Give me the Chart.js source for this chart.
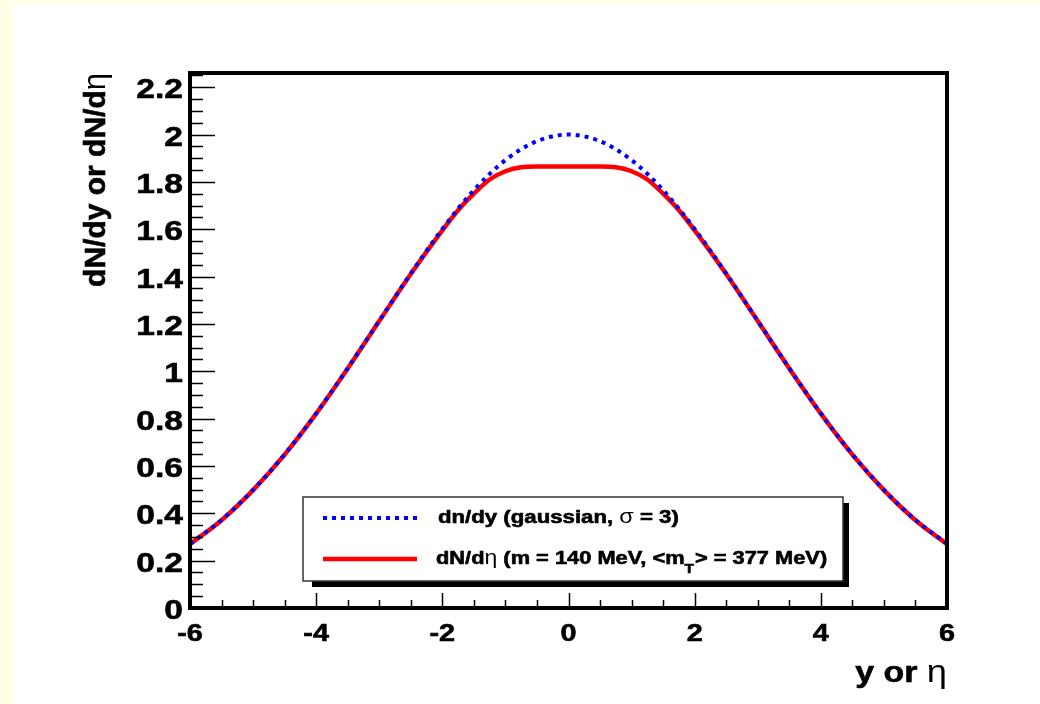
<!DOCTYPE html>
<html>
<head>
<meta charset="utf-8">
<title>dN/dy or dN/deta</title>
<script src="https://cdn.jsdelivr.net/npm/chart.js@4.4.1/dist/chart.umd.min.js"></script>
<style>
  html, body { margin: 0; padding: 0; background: #fffee6; }
  #wrap { width: 1040px; height: 704px; position: relative; }
</style>
</head>
<body>
<div id="wrap"><canvas id="chart"></canvas></div>
<script>
// values
const gaussX = [-6, -5.5, -5, -4.5, -4, -3.5, -3, -2.5, -2, -1.5, -1, -0.5, 0, 0.5, 1, 1.5, 2, 2.5, 3, 3.5, 4, 4.5, 5, 5.5, 6];
const gaussY = [0.271, 0.372, 0.499, 0.649, 0.822, 1.013, 1.213, 1.413, 1.601, 1.765, 1.892, 1.972, 2.0,
                1.972, 1.892, 1.765, 1.601, 1.413, 1.213, 1.013, 0.822, 0.649, 0.499, 0.372, 0.271];

const etaX = [-6, -5.5, -5, -4.5, -4, -3.5, -3, -2.5, -2, -1.75, -1.5, -1.25, -1, -0.75, -0.5, 0,
              0.5, 0.75, 1, 1.25, 1.5, 1.75, 2, 2.5, 3, 3.5, 4, 4.5, 5, 5.5, 6];
const etaY = [0.27, 0.371, 0.498, 0.648, 0.821, 1.012, 1.212, 1.411, 1.595, 1.68, 1.75, 1.81, 1.845, 1.862, 1.865, 1.865,
              1.865, 1.862, 1.845, 1.81, 1.75, 1.68, 1.595, 1.411, 1.212, 1.012, 0.821, 0.648, 0.498, 0.371, 0.27];

const xMajorTicks = [-6, -4, -2, 0, 2, 4, 6];
const xTickLabels = ['-6', '-4', '-2', '0', '2', '4', '6'];
const yMajorTicks = [0, 0.2, 0.4, 0.6, 0.8, 1, 1.2, 1.4, 1.6, 1.8, 2, 2.2];
const yTickLabels = ['0', '0.2', '0.4', '0.6', '0.8', '1', '1.2', '1.4', '1.6', '1.8', '2', '2.2'];
const xMinorStep = 0.5;
const yMinorStep = 0.05;

const BOLD = "'Liberation Sans', Arial, sans-serif";
const STRETCH = 1.2; // text in the original is a bit wider than Arial

// draw a run of text pieces (each with its own font), optionally stretched horizontally
function drawParts(ctx, parts, x, y, align, stretch) {
    ctx.save();
    ctx.translate(x, y);
    ctx.scale(stretch, 1);
    ctx.textBaseline = 'alphabetic';
    ctx.textAlign = 'left';
    ctx.lineWidth = 0.6;
    ctx.strokeStyle = ctx.fillStyle;
    const widths = parts.map(p => { ctx.font = p.font; return ctx.measureText(p.text).width * (p.adv || 1); });
    const total = widths.reduce((a, b) => a + b, 0);
    let pos = align === 'right' ? -total : align === 'center' ? -total / 2 : 0;
    parts.forEach((p, i) => {
        ctx.font = p.font;
        ctx.fillText(p.text, pos, p.dy || 0);
        // slightly heavier strokes, like the original bitmap fonts
        if (p.font.startsWith('bold')) ctx.strokeText(p.text, pos, p.dy || 0);
        pos += widths[i];
    });
    ctx.restore();
}

const rootStyle = {
    id: 'rootStyle',
    beforeDraw(chart) {
        const ctx = chart.ctx;
        ctx.save();
        ctx.fillStyle = '#fffee6';
        ctx.fillRect(0, 0, chart.width, chart.height);
        ctx.fillStyle = '#ffffff';
        ctx.fillRect(13, 4, chart.width - 13, chart.height - 4);
        ctx.restore();
    },
    afterDraw(chart) {
        const ctx = chart.ctx;
        const xs = chart.scales.x, ys = chart.scales.y;
        const a = chart.chartArea;
        ctx.save();
        ctx.strokeStyle = '#000';
        ctx.fillStyle = '#000';

        // inward tick marks
        ctx.lineWidth = 1.5;
        ctx.beginPath();
        for (let i = 0; i * yMinorStep <= ys.max + 1e-9; i++) {
            const v = i * yMinorStep;
            const major = yMajorTicks.some(t => Math.abs(t - v) < 1e-6);
            const py = Math.round(ys.getPixelForValue(v)) + 0.5;
            ctx.moveTo(a.left, py);
            ctx.lineTo(a.left + (major ? 25 : 13), py);
        }
        for (let i = 0; xs.min + i * xMinorStep <= xs.max + 1e-9; i++) {
            const v = xs.min + i * xMinorStep;
            const major = xMajorTicks.some(t => Math.abs(t - v) < 1e-6);
            const px = Math.round(xs.getPixelForValue(v)) + 0.5;
            ctx.moveTo(px, a.bottom);
            ctx.lineTo(px, a.bottom - (major ? 15 : 8));
        }
        ctx.stroke();

        // frame
        ctx.lineWidth = 4;
        ctx.strokeRect(a.left, a.top, a.right - a.left, a.bottom - a.top);

        // tick labels
        yMajorTicks.forEach((v, i) => {
            drawParts(ctx, [{ text: yTickLabels[i], font: 'bold 28px ' + BOLD }],
                a.left - 7, ys.getPixelForValue(v) + 11, 'right', STRETCH);
        });
        xMajorTicks.forEach((v, i) => {
            drawParts(ctx, [{ text: xTickLabels[i], font: 'bold 24px ' + BOLD }],
                xs.getPixelForValue(v), a.bottom + 33, 'center', STRETCH);
        });

        // axis titles
        drawParts(ctx, [
            { text: 'y or ', font: 'bold 29px ' + BOLD },
            { text: 'η', font: '31px ' + BOLD }
        ], a.right, 682, 'right', 1.17);

        ctx.save();
        ctx.translate(105, a.top);
        ctx.rotate(-Math.PI / 2);
        drawParts(ctx, [
            { text: 'dN/dy or dN/d', font: 'bold 30px ' + BOLD },
            { text: 'η', font: '31px ' + BOLD }
        ], 0, 0, 'right', 1);
        ctx.restore();

        // legend box with shadow
        const lx = 303, ly = 497, lw = 540, lh = 84;
        ctx.fillStyle = '#000';
        ctx.fillRect(lx + 9, ly + lh, lw - 4, 6);
        ctx.fillRect(lx + lw, ly + 6, 6, lh);
        ctx.fillStyle = '#fff';
        ctx.fillRect(lx, ly, lw, lh);
        ctx.lineWidth = 1.5;
        ctx.strokeStyle = '#333';
        ctx.strokeRect(lx, ly, lw, lh);

        const ds = chart.data.datasets;
        const rows = [518, 559];
        ds.forEach((d, i) => {
            ctx.save();
            ctx.strokeStyle = d.borderColor;
            ctx.lineWidth = d.borderWidth;
            ctx.setLineDash(d.borderDash || []);
            ctx.beginPath();
            ctx.moveTo(323, rows[i]);
            ctx.lineTo(417, rows[i]);
            ctx.stroke();
            ctx.restore();
        });
        ctx.fillStyle = '#000';
        drawParts(ctx, [
            { text: 'dn/dy (gaussian, ', font: 'bold 18.5px ' + BOLD },
            { text: 'σ', font: '19.5px ' + BOLD },
            { text: ' = 3)', font: 'bold 18.5px ' + BOLD }
        ], 438, 523, 'left', STRETCH);
        drawParts(ctx, [
            { text: 'dN/d', font: 'bold 18.5px ' + BOLD },
            { text: 'η', font: '19.5px ' + BOLD },
            { text: ' (m = 140 MeV, <m', font: 'bold 18.5px ' + BOLD },
            { text: 'T', font: 'bold 13px ' + BOLD, dy: 9, adv: 1.1 },
            { text: '> = 377 MeV)', font: 'bold 18.5px ' + BOLD }
        ], 436, 564, 'left', 1.18);

        ctx.restore();
    }
};

const ctx = document.getElementById('chart');
new Chart(ctx, {
    type: 'line',
    data: {
        datasets: [
            {
                label: 'dn/dy (gaussian, σ = 3)',
                data: gaussX.map((x, i) => ({ x: x, y: gaussY[i] })),
                borderColor: '#0000ff',
                borderWidth: 4,
                borderDash: [4, 5],
                pointRadius: 0,
                fill: false,
                cubicInterpolationMode: 'monotone'
            },
            {
                label: 'dN/dη (m = 140 MeV, <mT> = 377 MeV)',
                data: etaX.map((x, i) => ({ x: x, y: etaY[i] })),
                borderColor: '#ff0000',
                borderWidth: 4.5,
                pointRadius: 0,
                fill: false,
                cubicInterpolationMode: 'monotone'
            }
        ]
    },
    options: {
        responsive: true,
        maintainAspectRatio: false,
        animation: false,
        layout: { padding: { left: 190, right: 93, top: 73, bottom: 96 } },
        scales: {
            x: { type: 'linear', min: -6, max: 6, display: false },
            y: { type: 'linear', min: 0, max: 2.26, display: false }
        },
        plugins: {
            legend: { display: false },
            tooltip: { enabled: false }
        }
    },
    plugins: [rootStyle]
});
</script>
</body>
</html>
